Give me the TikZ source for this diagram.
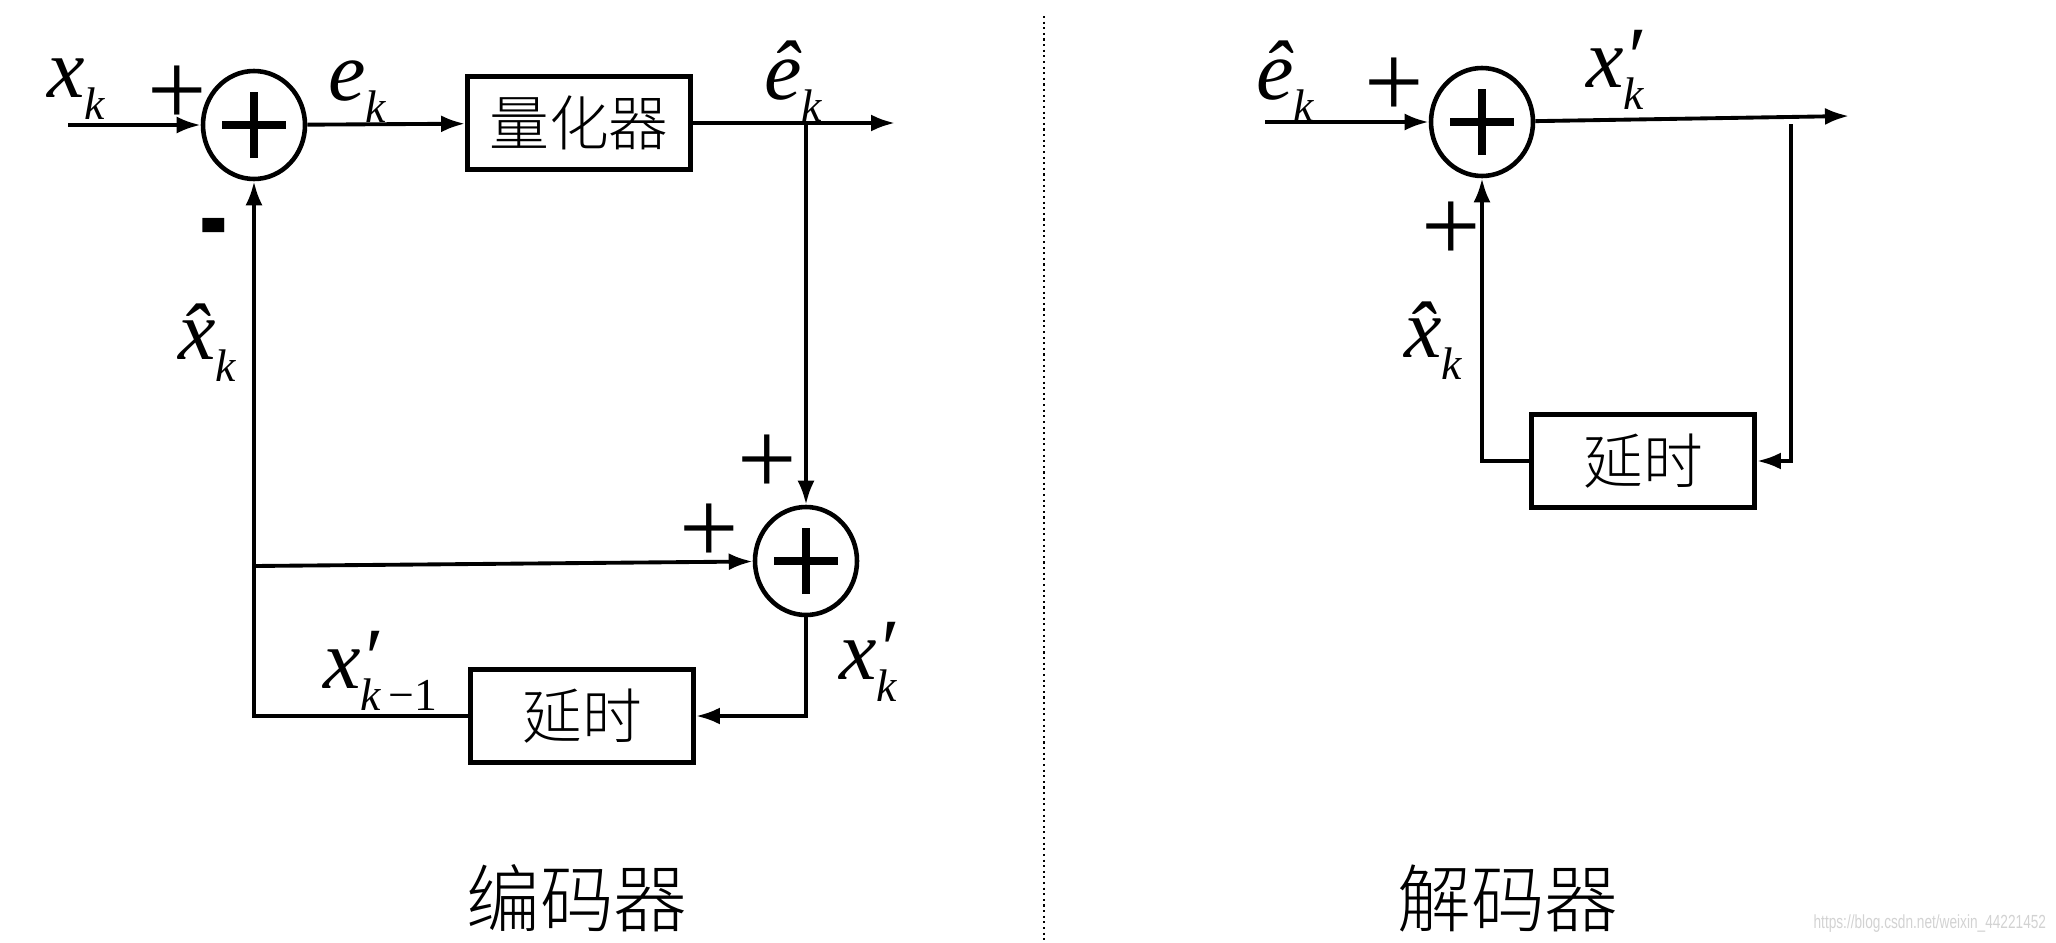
\documentclass[tikz,border=0pt]{standalone}
\usepackage{fontspec}
\setmainfont{Liberation Serif}
\newfontfamily\cjk{Noto Sans CJK SC Light}
\newfontfamily\wmfont[FakeStretch=0.72]{Liberation Sans}
\usetikzlibrary{arrows.meta,shapes.geometric}

% subscript and prime for the signal names
\newcommand{\subk}[1]{\raisebox{-0.26em}{\fontsize{13pt}{13pt}\selectfont\itshape #1}}
\newcommand{\prm}{\rlap{\raisebox{0.02em}{\char"2032}}}

\begin{document}
\begin{tikzpicture}[x=0.1mm,y=-0.1mm, line width=1.1pt, >={Latex[length=2.4mm,width=1.7mm]},
    sum/.style={ellipse, draw, line width=1.3pt, minimum width=10.2mm, minimum height=10.8mm, inner sep=0pt,
      path picture={\draw[line width=2.3pt]
        ([xshift=-3.2mm]path picture bounding box.center) -- ([xshift=3.2mm]path picture bounding box.center)
        ([yshift=-3.3mm]path picture bounding box.center) -- ([yshift=3.3mm]path picture bounding box.center);}},
    block/.style={draw, line width=1.4pt, minimum width=22.3mm, minimum height=9.3mm, inner sep=0pt,
      font=\cjk\fontsize{17pt}{17pt}\selectfont},
    lbl/.style={inner sep=0pt, font=\fontsize{24pt}{24pt}\selectfont\itshape},
    sgn/.style={inner sep=0pt, font=\fontsize{30pt}{30pt}\selectfont},
    title/.style={inner sep=0pt, font=\cjk\fontsize{21pt}{21pt}\selectfont}]
    \useasboundingbox (0,0) rectangle (2056,943);

    % encoder
    \node[sum] (add1) at (254,125) {};
    \node[block] (quant) at (579,123) {量化器};
    \node[sum] (add2) at (806,561) {};
    \node[block] (delay1) at (582,716) {延时};
    \coordinate (in1) at (68,125);
    \coordinate (out1) at (895,123);
    \coordinate (tap1) at (806,123);
    \coordinate (tap2) at (254,566);

    \draw (in1) edge[->] (add1) (add1) edge[->] (quant) (quant) edge[->] (out1);
    \draw (tap1) edge[->] (add2) (tap2) edge[->] (add2);
    \draw[->] (add2) -- (add2 |- delay1) -- (delay1);
    \draw[->] (delay1) -- (delay1 -| add1) -- (add1);

    \node[lbl] (xk) at (76,89) {x\subk{k}};
    \node[sgn] (plus1) at (177,96) {+};
    \node[lbl] (ek) at (357,92) {e\subk{k}};
    \node[lbl] (ehat1) at (793,81) {\^{e}\subk{k}};
    \node[font=\wmfont\bfseries\fontsize{34pt}{34pt}\selectfont, inner sep=0pt] (minus1) at (214,237) {-};
    \node[lbl] (xhat1) at (207,343) {\^{x}\subk{k}};
    \node[sgn] (plus2) at (767,465) {+};
    \node[sgn] (plus3) at (709,534) {+};
    \node[lbl] (xp1) at (868,662) {x\prm\subk{k}};
    \node[lbl] (xpm1) at (380,671) {x\prm\subk{k{\upshape\,\char"2212 1}}};
    \node[title] (enc) at (577,898) {编码器};

    % separator
    \draw[densely dotted, line width=0.6pt] (1044,16) -- (1044,943);

    % decoder
    \node[sum] (add3) at (1482,122) {};
    \node[block] (delay2) at (1643,461) {延时};
    \coordinate (in2) at (1265,122);
    \coordinate (out2) at (1849,116);
    \coordinate (tap3) at (1791,124);

    \draw (in2) edge[->] (add3) (add3) edge[->] (out2);
    \draw[->] (tap3) -- (tap3 |- delay2) -- (delay2);
    \draw[->] (delay2) -- (delay2 -| add3) -- (add3);

    \node[lbl] (ehat2) at (1285,81) {\^{e}\subk{k}};
    \node[sgn] (plus4) at (1394,88) {+};
    \node[lbl] (xp2) at (1615,70) {x\prm\subk{k}};
    \node[sgn] (plus5) at (1451,232) {+};
    \node[lbl] (xhat2) at (1433,341) {\^{x}\subk{k}};
    \node[title] (dec) at (1508,898) {解码器};

    \node[anchor=south east, inner sep=0pt, text=gray!35, font=\wmfont\fontsize{5.4pt}{5.4pt}\selectfont] (mark) at (2048,934) {https://blog.csdn.net/weixin\_44221452};
\end{tikzpicture}
\end{document}
